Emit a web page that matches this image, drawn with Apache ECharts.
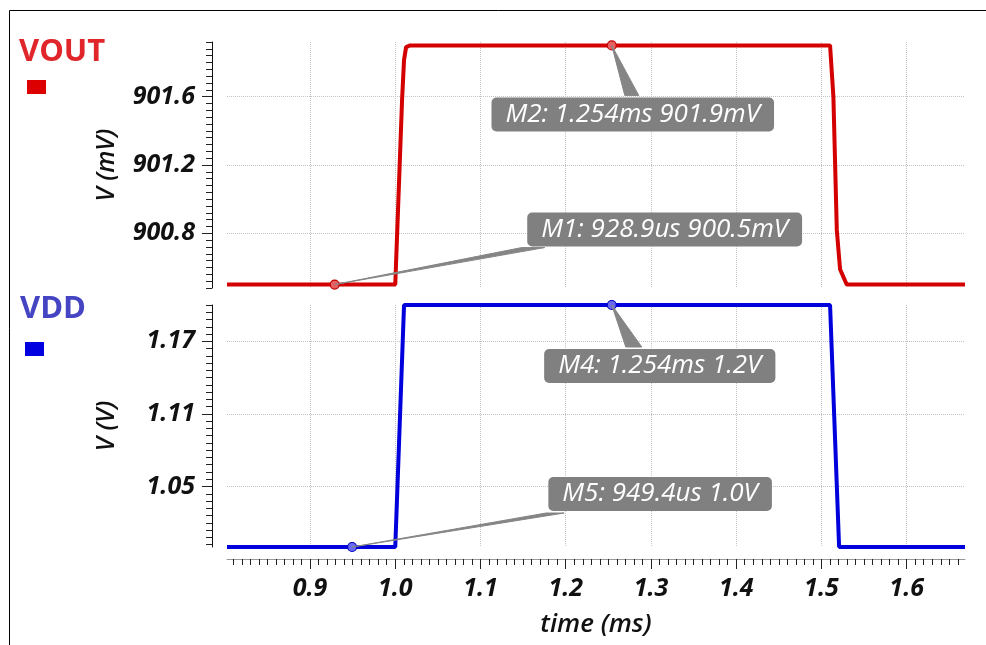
<!DOCTYPE html>
<html>
<head>
<meta charset="utf-8">
<script src="https://cdn.jsdelivr.net/npm/echarts@6/dist/echarts.min.js"></script>
<style>
html,body{margin:0;padding:0;background:#fff;}
#c{width:986px;height:645px;}
</style>
</head>
<body>
<div id="c"></div>
<script>
// ---- data ----
var xRange = [0.8026, 1.6684];
var xTickLabels = [0.9, 1.0, 1.1, 1.2, 1.3, 1.4, 1.5, 1.6];
var voutRange = [900.48, 901.92];
var voutTickLabels = [900.8, 901.2, 901.6];
var vddRange = [1.0, 1.2];
var vddTickLabels = [1.05, 1.11, 1.17];

var voutTime = [0.8026, 1.0, 1.008, 1.0103, 1.0127, 1.0174, 1.5101, 1.514, 1.516, 1.518, 1.5218, 1.5297, 1.6684];
var voutVal  = [900.5, 900.5, 901.583, 901.815, 901.89, 901.9, 901.9, 901.6, 901.21, 900.82, 900.59, 900.5, 900.5];
var vddTime  = [0.8026, 1.0, 1.0103, 1.5101, 1.5207, 1.6684];
var vddVal   = [1.0, 1.0, 1.2, 1.2, 1.0, 1.0];

var markerNames = ['M1', 'M2', 'M4', 'M5'];
var markerTime  = [0.9289, 1.254, 1.254, 0.9494];
var markerVal   = [900.5, 901.9, 1.2, 1.0];
var markerText  = ['M1: 928.9us 900.5mV', 'M2: 1.254ms 901.9mV', 'M4: 1.254ms 1.2V', 'M5: 949.4us 1.0V'];
var markerPanel = [0, 0, 1, 1];

// ---- helpers ----
function pairs(xs, ys){ var o=[]; for(var i=0;i<xs.length;i++) o.push([xs[i], ys[i]]); return o; }
function minorTicks(first, step, lo, hi){
  var o=[]; var k0=Math.ceil((lo-first)/step-1e-6), k1=Math.floor((hi-first)/step+1e-6);
  for(var k=k0;k<=k1;k++) o.push(+(first+k*step).toFixed(6));
  return o;
}
var xMinor = minorTicks(xTickLabels[0], 0.01, xRange[0], xRange[1]);
var voutMinor = minorTicks(voutTickLabels[0], 0.04, voutRange[0], voutRange[1]);
var vddMinor = minorTicks(vddTickLabels[0], 0.006, vddRange[0], vddRange[1]);

var FONT = '"Open Sans", "Noto Sans", sans-serif';
var split = {show:true, lineStyle:{color:'#c4c4c4', type:'dotted', width:1}};

var chart = echarts.init(document.getElementById('c'), null, {renderer:'canvas'});

var grids = [
  {left:227, right:21, top:42, height:246},
  {left:227, right:21, top:305, height:242}
];

var xAxes = [
  { // top panel: only vertical grid lines
    type:'value', gridIndex:0, min:xRange[0], max:xRange[1], position:'bottom',
    axisLine:{show:false}, axisLabel:{show:false},
    axisTick:{show:false, customValues:xTickLabels},
    splitLine:split
  },
  { // bottom panel main axis
    type:'value', gridIndex:1, min:xRange[0], max:xRange[1], offset:12, position:'bottom',
    axisLine:{show:true, lineStyle:{color:'#9a9a9a', width:1}},
    axisTick:{show:true, length:10, customValues:xTickLabels, lineStyle:{color:'#222'}},
    axisLabel:{show:true, customValues:xTickLabels, margin:17,
      formatter:function(v){return v.toFixed(1);},
      fontFamily:FONT, fontSize:25, fontWeight:'bold', fontStyle:'italic', color:'#111'},
    splitLine:split,
    name:'time (ms)', nameLocation:'middle', nameGap:53,
    nameTextStyle:{fontFamily:FONT, fontSize:26, fontWeight:600, fontStyle:'italic', color:'#111'}
  },
  { // bottom panel minor ticks
    type:'value', gridIndex:1, min:xRange[0], max:xRange[1], offset:12, position:'bottom',
    axisLine:{show:false}, axisLabel:{show:false}, splitLine:{show:false},
    axisTick:{show:true, length:6, customValues:xMinor, lineStyle:{color:'#222'}}
  }
];

function yMain(grid, range, ticks, dec, name){
  return {
    type:'value', gridIndex:grid, min:range[0], max:range[1], offset:15, position:'left',
    axisLine:{show:true, lineStyle:{color:'#111', width:1}},
    axisTick:{show:true, length:10, customValues:ticks, lineStyle:{color:'#222'}},
    axisLabel:{show:true, customValues:ticks, margin:17,
      formatter:function(v){return v.toFixed(dec);},
      fontFamily:FONT, fontSize:25, fontWeight:'bold', fontStyle:'italic', color:'#111'},
    splitLine:split,
    name:name, nameLocation:'middle', nameGap:93, nameRotate:90,
    nameTextStyle:{fontFamily:FONT, fontSize:25, fontWeight:600, fontStyle:'italic', color:'#111'}
  };
}
function yMinor(grid, range, ticks){
  return {
    type:'value', gridIndex:grid, min:range[0], max:range[1], offset:15, position:'left',
    axisLine:{show:false}, axisLabel:{show:false}, splitLine:{show:false},
    axisTick:{show:true, length:6, customValues:ticks, lineStyle:{color:'#222'}}
  };
}
var yAxes = [
  yMain(0, voutRange, voutTickLabels, 1, 'V (mV)'),
  yMinor(0, voutRange, voutMinor),
  yMain(1, vddRange, vddTickLabels, 2, 'V (V)'),
  yMinor(1, vddRange, vddMinor)
];

function markerData(panel){
  var o=[];
  for(var i=0;i<markerNames.length;i++) if(markerPanel[i]===panel) o.push([markerTime[i], markerVal[i]]);
  return o;
}

var series = [
  {type:'line', name:'VOUT', xAxisIndex:0, yAxisIndex:0, data:pairs(voutTime, voutVal),
   showSymbol:false, clip:false, lineStyle:{color:'#d40000', width:4}, z:3, animation:false},
  {type:'line', name:'VDD', xAxisIndex:1, yAxisIndex:2, data:pairs(vddTime, vddVal),
   showSymbol:false, clip:false, lineStyle:{color:'#0000dd', width:4}, z:3, animation:false},
  {type:'scatter', xAxisIndex:0, yAxisIndex:0, data:markerData(0), symbolSize:9, clip:false,
   itemStyle:{color:'#e86060', borderColor:'#c00000', borderWidth:1.2, opacity:1}, z:6, animation:false},
  {type:'scatter', xAxisIndex:1, yAxisIndex:2, data:markerData(1), symbolSize:9, clip:false,
   itemStyle:{color:'#6a6af0', borderColor:'#0000c0', borderWidth:1.2, opacity:1}, z:6, animation:false}
];

chart.setOption({
  backgroundColor:'#fff',
  animation:false,
  grid:grids, xAxis:xAxes, yAxis:yAxes, series:series
});

// ---- annotations (legend-like labels, callouts, frame) ----
var calloutLayout = {
  M1:{dx:330, dy:-55, wedge:[[187,-37],[210,-37]]},
  M2:{dx:21,  dy:69,  wedge:[[13,50],[27,50]]},
  M4:{dx:48,  dy:61,  wedge:[[14,42],[30,42]]},
  M5:{dx:308, dy:-53, wedge:[[194,-34],[212,-34]]}
};
var gfx = [
  {type:'rect', shape:{x:9.5, y:10.5, width:1200, height:1000}, style:{fill:null, stroke:'#000', lineWidth:1}, z:0, silent:true},
  {type:'text', x:19, y:52, style:{text:'VOUT', fill:'#e0262b', font:'bold 31px "Open Sans", sans-serif', verticalAlign:'middle'}, z:10},
  {type:'rect', shape:{x:27, y:80, width:19, height:14}, style:{fill:'#dd0000'}, z:10},
  {type:'text', x:20, y:309, style:{text:'VDD', fill:'#4545c4', font:'bold 31px "Open Sans", sans-serif', verticalAlign:'middle'}, z:10},
  {type:'rect', shape:{x:25, y:342, width:19, height:14}, style:{fill:'#0000e0'}, z:10}
];
for(var i=0;i<markerNames.length;i++){
  var axisRef = markerPanel[i]===0 ? {xAxisIndex:0, yAxisIndex:0} : {xAxisIndex:1, yAxisIndex:2};
  var p = chart.convertToPixel(axisRef, [markerTime[i], markerVal[i]]);
  var L = calloutLayout[markerNames[i]];
  gfx.push({type:'polygon', shape:{points:[[p[0],p[1]],[p[0]+L.wedge[0][0],p[1]+L.wedge[0][1]],[p[0]+L.wedge[1][0],p[1]+L.wedge[1][1]]]},
    style:{fill:'#858585', stroke:'#858585', lineWidth:1}, z:20});
  gfx.push({type:'text', x:p[0]+L.dx, y:p[1]+L.dy, z:21,
    style:{text:markerText[i], fill:'#fff', font:'italic 500 26px "Open Sans", sans-serif',
      align:'center', verticalAlign:'middle', backgroundColor:'#808080', padding:[4,14,4,14], borderRadius:5}});
}
chart.setOption({graphic:{elements:gfx}});
</script>
</body>
</html>
